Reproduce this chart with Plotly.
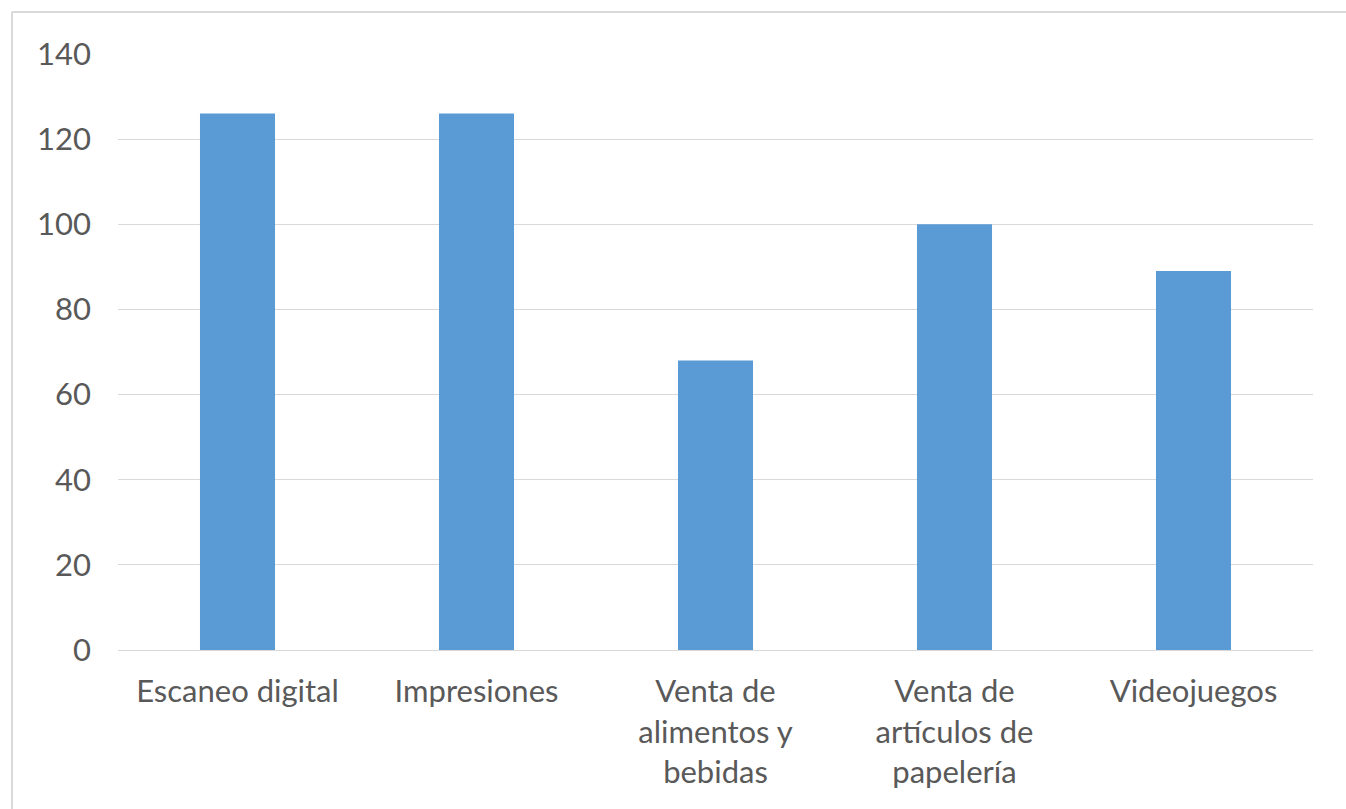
import plotly.graph_objects as go

categories = ["Escaneo digital", "Impresiones", "Venta de<br>alimentos y<br>bebidas",
              "Venta de<br>artículos de<br>papelería", "Videojuegos"]
values = [126, 126, 68, 100, 89]
y_ticks = [0, 20, 40, 60, 80, 100, 120, 140]

fig = go.Figure(go.Bar(x=categories, y=values, marker=dict(color="#5B9BD5", line=dict(width=0))))

L, R, T, B = 118, 33, 54, 159
W, H = 1346, 809
pw, ph = W - L - R, H - T - B

fig.update_layout(
    width=W, height=H,
    margin=dict(l=L, r=R, t=T, b=B),
    plot_bgcolor="white", paper_bgcolor="white",
    bargap=0.686,
    showlegend=False,
    font=dict(family="Lato, Carlito, sans-serif", size=31, color="#595959"),
    xaxis=dict(showgrid=False, showline=True, linecolor="#D9D9D9", linewidth=1,
               ticks="", ticklabelstandoff=14, tickfont=dict(size=31, color="#595959")),
    yaxis=dict(range=[0, 140], tickvals=y_ticks, showgrid=True, gridcolor="#D9D9D9",
               gridwidth=1, zeroline=False, showline=False, ticks="",
               ticklabelstandoff=26, tickfont=dict(size=31, color="#595959")),
    shapes=[
        dict(type="line", xref="paper", yref="paper",
             x0=(12 - L) / pw, x1=1.2, y0=1 + (T - 12) / ph, y1=1 + (T - 12) / ph,
             line=dict(color="#D9D9D9", width=2)),
        dict(type="line", xref="paper", yref="paper",
             x0=(12 - L) / pw, x1=(12 - L) / pw, y0=1 + (T - 12) / ph, y1=-0.5,
             line=dict(color="#D9D9D9", width=2)),
    ],
)

fig.write_html("out.html")
